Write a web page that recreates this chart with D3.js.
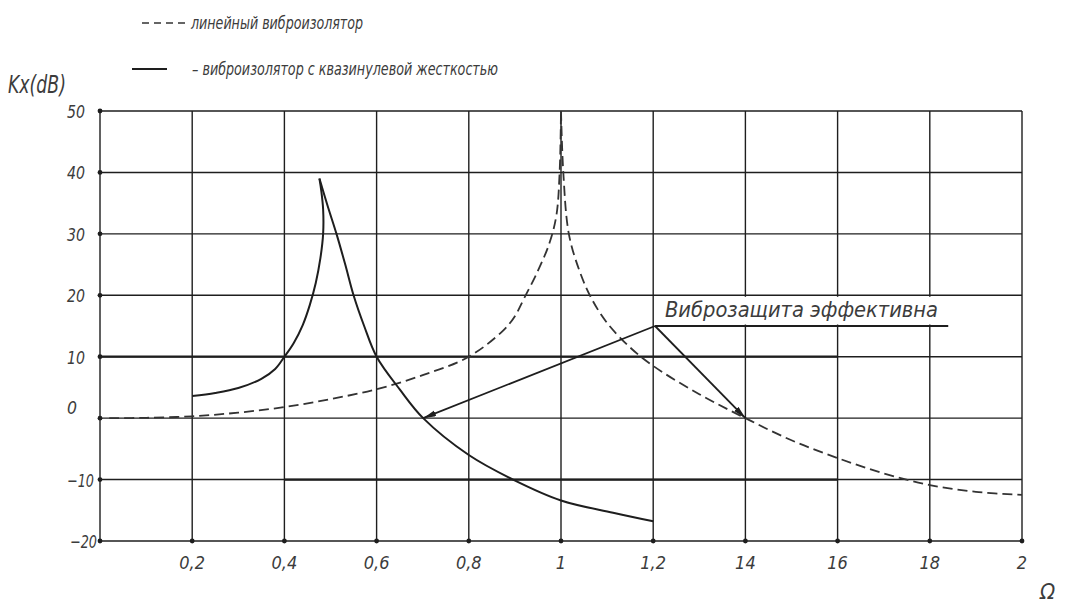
<!DOCTYPE html>
<html>
<head>
<meta charset="utf-8"/>
<script src="https://d3js.org/d3.v7.min.js"></script>
<style>
    body { margin: 0; background: #fff; }
    text { font-family: "Liberation Sans Narrow", "DejaVu Sans Condensed", sans-serif; font-style: italic; fill: #3c3c3c; }
</style>
</head>
<body>
<svg id="chart" width="1066" height="605"></svg>
<script>
    // tick values and their labels
    let xTicks = [0.2, 0.4, 0.6, 0.8, 1, 1.2, 1.4, 1.6, 1.8, 2];
    let xLabels = ["0,2", "0,4", "0,6", "0,8", "1", "1,2", "14", "16", "18", "2"];
    let yTicks = [-20, -10, 0, 10, 20, 30, 40, 50];

    // linear isolator (dashed), two branches meeting at resonance
    let linearLeft = [[0.02, 0], [0.1, 0.05], [0.2, 0.3], [0.3, 0.9], [0.4, 1.8], [0.5, 3.1], [0.6, 4.7],
        [0.7, 7.0], [0.8, 10], [0.875, 14.3], [0.9, 16.6], [0.92, 19.5], [0.95, 24], [0.975, 28.5],
        [0.99, 33], [0.997, 40], [1.0, 50]];
    let linearRight = [[1.0, 50], [1.005, 40], [1.017, 30], [1.04, 24], [1.066, 19.5], [1.1, 15.5], [1.15, 11.5],
        [1.2, 8.5], [1.3, 3.9], [1.4, 0], [1.5, -3.6], [1.6, -6.5], [1.7, -9], [1.8, -10.9], [1.9, -12], [2.0, -12.5]];

    // quasi-zero stiffness isolator (solid), rising branch and falling branch
    let qzsUp = [[0.2, 3.6], [0.25, 4.1], [0.3, 4.9], [0.35, 6.4], [0.38, 8.0], [0.4, 10], [0.42, 12.2],
        [0.44, 15.2], [0.455, 18.4], [0.468, 22], [0.478, 26], [0.484, 30], [0.484, 34], [0.48, 37], [0.476, 39]];
    let qzsDown = [[0.476, 39], [0.494, 34.5], [0.513, 30], [0.532, 25], [0.55, 20], [0.573, 15], [0.6, 10],
        [0.651, 4.6], [0.701, 0], [0.8, -6], [0.896, -10], [1.0, -13.4], [1.113, -15.4], [1.2, -16.8]];

    // annotation: apex, end of shelf line, arrow targets
    let noteApex = [1.204, 15];
    let noteShelfEnd = [1.84, 15];
    let noteTargets = [[0.701, 0], [1.4, 0]];
    let noteText = "Виброзащита эффективна";

    // heavier grid segments
    let heavySegs = [{y: 10, x0: 0, x1: 1.6}, {y: -10, x0: 0.4, x1: 1.6}];

    let legendItems = [
        {label: "линейный виброизолятор", dash: "7,5"},
        {label: "– виброизолятор с квазинулевой жесткостью", dash: null}
    ];

    let svg = d3.select("#chart");
    let x = d3.scaleLinear().domain([0, 2]).range([100, 1022]);
    let y = d3.scaleLinear().domain([-20, 50]).range([541, 111]);
    let ink = "#1e1e1e";

    // grid
    let grid = svg.append("g").attr("stroke", ink).attr("stroke-width", 1.4);
    grid.selectAll(".h").data(yTicks).enter().append("line")
        .attr("x1", x(0)).attr("x2", x(2))
        .attr("y1", d => y(d)).attr("y2", d => y(d));
    grid.selectAll(".v").data([0].concat(xTicks)).enter().append("line")
        .attr("x1", d => x(d)).attr("x2", d => x(d))
        .attr("y1", y(50)).attr("y2", y(-20));
    grid.selectAll(".hv").data(heavySegs).enter().append("line")
        .attr("x1", d => x(d.x0)).attr("x2", d => x(d.x1))
        .attr("y1", d => y(d.y)).attr("y2", d => y(d.y))
        .attr("stroke-width", 2.3);

    // dots on axes
    svg.selectAll(".dy").data(yTicks).enter().append("circle")
        .attr("cx", x(0)).attr("cy", d => y(d)).attr("r", 2.4).attr("fill", ink);
    svg.selectAll(".dx").data(xTicks).enter().append("circle")
        .attr("cx", d => x(d)).attr("cy", y(-20)).attr("r", 2.4).attr("fill", ink);

    // tick labels
    svg.selectAll(".yl").data(yTicks).enter().append("text")
        .attr("x", d => d === -20 ? 70 : 67)
        .attr("y", d => y(d) + (d === 0 ? -4 : 7))
        .style("font-size", "18px")
        .attr("textLength", d => d < 0 ? 27 : (d === 0 ? 10 : 18))
        .attr("lengthAdjust", "spacingAndGlyphs")
        .text(d => d < 0 ? "\u2212" + Math.abs(d) : d);
    svg.selectAll(".xl").data(xTicks).enter().append("text")
        .attr("x", (d, i) => x(d))
        .attr("y", 569)
        .attr("text-anchor", "middle")
        .style("font-size", "18px")
        .text((d, i) => xLabels[i]);

    // axis titles
    svg.append("text").attr("x", 8).attr("y", 93).style("font-size", "25px")
        .attr("textLength", 58).attr("lengthAdjust", "spacingAndGlyphs").text("Kx(dB)");
    svg.append("text").attr("x", 1040).attr("y", 599).style("font-size", "22px").text("Ω");

    // curves
    let line = d3.line().x(d => x(d[0])).y(d => y(d[1])).curve(d3.curveCatmullRom.alpha(0.5));
    [linearLeft, linearRight].forEach(function(s) {
        svg.append("path").attr("d", line(s)).attr("fill", "none")
            .attr("stroke", "#333").attr("stroke-width", 1.8).attr("stroke-dasharray", "10,5");
    });
    [qzsUp, qzsDown].forEach(function(s) {
        svg.append("path").attr("d", line(s)).attr("fill", "none")
            .attr("stroke", ink).attr("stroke-width", 2);
    });

    // annotation
    svg.append("defs").append("marker")
        .attr("id", "arr").attr("markerUnits", "userSpaceOnUse")
        .attr("markerWidth", 14).attr("markerHeight", 8)
        .attr("refX", 13).attr("refY", 3).attr("orient", "auto")
        .append("path").attr("d", "M0,0 L13,3 L0,6 z").attr("fill", ink);

    svg.append("rect")
        .attr("x", x(noteApex[0]) + 4).attr("y", y(20) + 1.5)
        .attr("width", 945 - x(noteApex[0]) - 4).attr("height", y(15) - y(20) - 3)
        .attr("fill", "#fff");
    svg.append("text")
        .attr("x", 665).attr("y", y(15) - 9)
        .attr("textLength", 273).attr("lengthAdjust", "spacingAndGlyphs")
        .style("font-size", "22px")
        .text(noteText);
    svg.append("line")
        .attr("x1", x(noteApex[0])).attr("y1", y(noteApex[1]))
        .attr("x2", x(noteShelfEnd[0])).attr("y2", y(noteShelfEnd[1]))
        .attr("stroke", ink).attr("stroke-width", 2);
    svg.selectAll(".arw").data(noteTargets).enter().append("line")
        .attr("x1", x(noteApex[0])).attr("y1", y(noteApex[1]))
        .attr("x2", d => x(d[0])).attr("y2", d => y(d[1]))
        .attr("stroke", ink).attr("stroke-width", 1.8)
        .attr("marker-end", "url(#arr)");

    // legend
    let lg = svg.append("g");
    lg.append("line").attr("x1", 142).attr("x2", 187).attr("y1", 23).attr("y2", 23)
        .attr("stroke", "#333").attr("stroke-width", 1.6).attr("stroke-dasharray", legendItems[0].dash);
    lg.append("text").attr("x", 191).attr("y", 29).style("font-size", "17px")
        .attr("textLength", 172).attr("lengthAdjust", "spacingAndGlyphs")
        .text(legendItems[0].label);
    lg.append("line").attr("x1", 132).attr("x2", 167).attr("y1", 69).attr("y2", 69)
        .attr("stroke", ink).attr("stroke-width", 1.8);
    lg.append("text").attr("x", 192).attr("y", 75).style("font-size", "17px")
        .attr("textLength", 306).attr("lengthAdjust", "spacingAndGlyphs")
        .text(legendItems[1].label);
</script>
</body>
</html>
